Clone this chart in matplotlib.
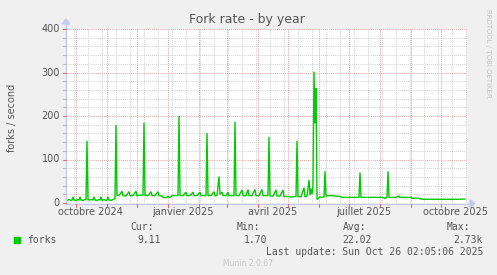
import matplotlib
matplotlib.use('Agg')
import matplotlib.pyplot as plt
import matplotlib.dates as mdates
from matplotlib.lines import Line2D
from matplotlib.patches import Polygon, Rectangle
from datetime import datetime, timedelta
import numpy as np

# ---------------- data ----------------
title = "Fork rate - by year"
y_label = "forks / second"
start = datetime(2024, 9, 21, 2, 5, 6)
end = datetime(2025, 10, 26, 2, 5, 6)

day = [0, 1, 3, 5, 6, 7, 8, 10, 12, 13, 14, 15, 17, 19, 20, 21, 22, 24, 26, 27,
       28, 29, 31, 33, 34, 35, 36, 38, 40, 41, 42, 43, 45, 47, 49, 50, 51,
       53, 56, 57, 60, 63, 64, 67, 70, 71, 74, 77, 78, 79, 82, 85, 86, 89, 92,
       93, 96, 97, 100, 102, 104, 106, 110, 112, 113, 114, 117, 120, 121, 124,
       127, 128, 131, 134, 135, 138, 140, 141, 142, 145, 148, 149, 151, 153,
       154, 156, 157, 160, 162, 163, 166, 168, 169, 170, 173, 176, 177, 180,
       182, 183, 186, 189, 190, 193, 196, 197, 200, 202, 203, 204, 207, 210,
       211, 214, 217, 218, 221, 225, 229, 230, 231, 232, 235, 238, 239, 241,
       243, 244, 245, 246, 247, 248, 249, 250, 251, 252, 254, 256, 258, 259,
       260, 263, 266, 270, 274, 276, 280, 285, 290, 293, 294, 295, 298, 300,
       301, 302, 306, 310, 315, 318, 319, 320, 321, 322, 323, 326, 330, 333,
       334, 338, 342, 345, 346, 353, 354, 355, 356, 360, 370, 380, 390, 399]
forks = [8, 6, 8, 6, 7, 14, 7, 6, 8, 7, 14, 7, 6, 8, 8, 143, 8, 7, 8, 7,
         14, 7, 6, 8, 7, 14, 6, 8, 6, 7, 14, 7, 6, 8, 10, 179, 18,
         17, 27, 17, 16, 26, 17, 17, 27, 17, 18, 18, 185, 18, 17, 26, 17, 17, 26,
         17, 16, 13, 12, 15, 13, 17, 17, 17, 200, 17, 17, 25, 17, 17,
         25, 17, 17, 25, 17, 17, 17, 161, 17, 17, 26, 17, 17, 61,
         20, 25, 17, 17, 25, 17, 17, 17, 187, 17, 17, 30, 17, 17,
         31, 17, 17, 31, 17, 17, 31, 17, 17, 17, 152, 16, 16, 30,
         16, 16, 30, 15, 15, 14, 15, 15, 143, 15, 14, 35, 14, 16,
         53, 18, 33, 20, 40, 302, 183, 264, 8, 10, 14, 13, 14, 73,
         16, 17, 17, 16, 15, 13, 13, 13, 13, 13, 70, 13, 13, 13,
         np.nan, 13, 13, 13, 13, 12, 10, 13, 13, 73, 13, 13, 13, 16,
         13, 13, 13, 13, 11, 11, 9, 11, 8.5, 8.5, 8.5, 8.5, 8.5, 9.1]

y_ticks = [0, 100, 200, 300, 400]
x_labels = ["octobre 2024", "janvier 2025", "avril 2025", "juillet 2025", "octobre 2025"]
x_label_dates = [datetime(2024, 10, 16), datetime(2025, 1, 16), datetime(2025, 4, 16),
                 datetime(2025, 7, 16), datetime(2025, 10, 16)]
legend_name = "forks"
stats_labels = ["Cur:", "Min:", "Avg:", "Max:"]
stats_values = ["9.11", "1.70", "22.02", "2.73k"]
last_update = "Last update: Sun Oct 26 02:05:06 2025"
footer = "Munin 2.0.67"
side_text = "RRDTOOL / TOBI OETIKER"

# ---------------- layout ----------------
W, H = 497, 275
def fx(x): return x / W
def fy(y): return 1 - y / H

fig = plt.figure(figsize=(W / 100, H / 100), dpi=100, facecolor='#f0f0f0')
L, R, T, B = 66, 467, 29, 203
ax = fig.add_axes([fx(L), fy(B), (R - L) / W, (B - T) / H])
ax.set_facecolor('white')
for s in ax.spines.values():
    s.set_visible(False)
ax.set_xticks([]); ax.set_yticks([])

x0 = mdates.date2num(start)
x1 = mdates.date2num(start + timedelta(days=401))
ax.set_xlim(x0, x1)
ax.set_ylim(0, 400)

text_col = '#555555'
major_col = '#e8a8a8'
minor_col = '#d4d4d4'
axis_col = '#c8c8f0'
dot = (0, (1, 1))

# minor grid
for v in range(20, 400, 20):
    if v % 100:
        ax.axhline(v, color=minor_col, lw=0.75, ls=dot, zorder=1)
d = datetime(2024, 9, 29)
while d < end:
    ax.axvline(mdates.date2num(d), color=minor_col, lw=0.75, ls=dot, zorder=1)
    d += timedelta(days=14)
# major grid
month_starts = []
yy, mm = 2024, 10
while datetime(yy, mm, 1) < end:
    month_starts.append(datetime(yy, mm, 1))
    mm += 1
    if mm > 12:
        mm = 1; yy += 1
for m in month_starts:
    ax.axvline(mdates.date2num(m), color=major_col, lw=0.75, ls=dot, zorder=2)
for v in y_ticks[1:]:
    ax.axhline(v, color=major_col, lw=0.75, ls=dot, zorder=2)

# data
dates = [start + timedelta(days=x) for x in day]
ax.plot(dates, forks, color='#00cc00', lw=1.0, zorder=5, solid_joinstyle='miter')
ax.set_xlim(x0, x1)
ax.set_ylim(0, 400)

# axes lines and arrows (in figure pixel space)
def fline(xs, ys, **kw):
    fig.add_artist(Line2D([fx(x) for x in xs], [fy(y) for y in ys], **kw))
fline([L, 470], [B + 0.5, B + 0.5], color=axis_col, lw=0.9)
fline([L, L], [B, 24], color=axis_col, lw=0.9)
fig.add_artist(Polygon([(fx(470), fy(B - 3.5)), (fx(470), fy(B + 4.5)), (fx(475), fy(B + 0.5))],
                       closed=True, color=axis_col, transform=fig.transFigure))
fig.add_artist(Polygon([(fx(L - 4), fy(24)), (fx(L + 4), fy(24)), (fx(L), fy(19))],
                       closed=True, color=axis_col, transform=fig.transFigure))

# ticks
for m in month_starts:
    xp = L + (mdates.date2num(m) - x0) / (x1 - x0) * (R - L)
    fline([xp, xp], [B + 1, B + 4], color='#e07070', lw=0.8)
for v in range(0, 401, 20):
    yp = B - v / 400 * (B - T)
    col = '#e07070' if v % 100 == 0 else '#bbbbbb'
    fline([L - 3, L], [yp, yp], color=col, lw=0.8)

# tick labels
for v in y_ticks:
    yp = B - v / 400 * (B - T)
    fig.text(fx(60), fy(yp), str(v), ha='right', va='center', fontsize=7, color=text_col)
for lab, dt in zip(x_labels, x_label_dates):
    xp = L + (mdates.date2num(dt) - x0) / (x1 - x0) * (R - L)
    fig.text(fx(xp), fy(212), lab, ha='center', va='center', fontsize=7, color=text_col)

# titles
fig.text(fx(247), fy(19), title, ha='center', va='center', fontsize=9, color=text_col)
fig.text(fx(12), fy(118), y_label, ha='center', va='center', rotation=90, fontsize=7, color=text_col)
fig.text(fx(488), fy(53), side_text, ha='center', va='center', rotation=270, fontsize=5,
         color='#c4c4c4')

# legend
fig.add_artist(Rectangle((fx(14), fy(243)), 6 / W, 6 / H, color='#00cc00', transform=fig.transFigure))
mono = 'DejaVu Sans Mono'
fig.text(fx(27), fy(240), legend_name, ha='left', va='center', fontsize=7, family=mono, color=text_col)
lab_right = [154, 260, 366, 470]
val_right = [161, 267, 372, 483]
for lab, val, lr, vr in zip(stats_labels, stats_values, lab_right, val_right):
    fig.text(fx(lr), fy(227), lab, ha='right', va='center', fontsize=7, family=mono, color=text_col)
    fig.text(fx(vr), fy(240), val, ha='right', va='center', fontsize=7, family=mono, color=text_col)
fig.text(fx(483), fy(252), last_update, ha='right', va='center', fontsize=7, family=mono, color=text_col)
fig.text(fx(248), fy(264), footer, ha='center', va='center', fontsize=5.5, color='#c8c8c8')

fig.savefig('out.png', dpi=100, facecolor=fig.get_facecolor())
